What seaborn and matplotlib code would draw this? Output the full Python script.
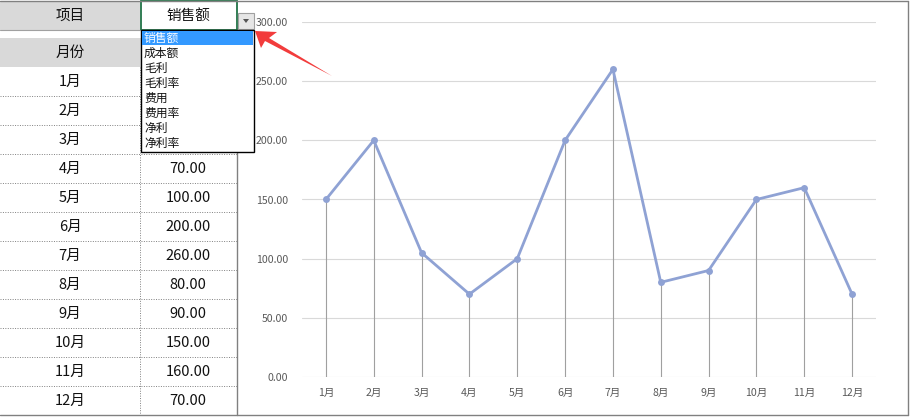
import matplotlib
matplotlib.use("Agg")
import matplotlib.pyplot as plt
import seaborn as sns
import numpy as np
from matplotlib.patches import Rectangle, Polygon

# data
months = ["1月", "2月", "3月", "4月", "5月", "6月", "7月", "8月", "9月", "10月", "11月", "12月"]
sales = [150, 200, 105, 70, 100, 200, 260, 80, 90, 150, 160, 70]
items = ["销售额", "成本额", "毛利", "毛利率", "费用", "费用率", "净利", "净利率"]
y_ticks = [0, 50, 100, 150, 200, 250, 300]

sns.set_theme(style="white")
plt.rcParams['font.family'] = ['Noto Sans CJK SC', 'DejaVu Sans']

W, H = 911, 419
fig = plt.figure(figsize=(W / 100, H / 100), dpi=100)

# chart area (pixel positions converted to figure fractions)
px_l, px_r, px_t, px_b = 302, 876, 22, 377
ax = fig.add_axes([px_l / W, 1 - px_b / H, (px_r - px_l) / W, (px_b - px_t) / H])
x = np.arange(len(months))
ax.vlines(x, 0, sales, color="#a0a0a0", lw=0.8, zorder=1)
sns.lineplot(x=x, y=sales, ax=ax, color="#8fa2d4", lw=2.0, marker="o",
             markersize=5, markeredgewidth=0, zorder=3)
ax.set_xlim(-0.5, len(months) - 0.5)
ax.set_ylim(0, 300)
ax.set_yticks(y_ticks)
ax.set_yticklabels([f"{v:.2f}" for v in y_ticks])
ax.set_xticks(x)
ax.set_xticklabels(months)
ax.tick_params(axis="both", labelsize=7.6, colors="#595959", length=0)
ax.tick_params(axis="y", pad=10)
ax.tick_params(axis="x", pad=8)
ax.grid(axis="y", color="#d9d9d9", lw=0.8)
ax.set_axisbelow(True)
for s in ax.spines.values():
    s.set_visible(False)
ax.set_xlabel("")
ax.set_ylabel("")

# overlay in pixel coordinates for the spreadsheet part
bg = fig.add_axes([0, 0, 1, 1], facecolor="none")
bg.set_xlim(0, W)
bg.set_ylim(H, 0)
bg.axis("off")

gray = "#d9d9d9"
grid_c = "#808080"
# header rows
bg.add_patch(Rectangle((0, 1), 140, 29, color=gray, lw=0))
bg.add_patch(Rectangle((0, 38), 237, 29, color=gray, lw=0))
bg.text(70, 16, "项目", ha="center", va="center", fontsize=10.5, color="#111111")
bg.text(70, 53, "月份", ha="center", va="center", fontsize=10.5, color="#111111")
bg.plot([0, 237], [30, 30], color="#a0a0a0", lw=0.8)
# selected cell
bg.add_patch(Rectangle((140.5, 1), 96.5, 29, fill=False, ec="#217346", lw=1.3))
bg.text(188, 16, "销售额", ha="center", va="center", fontsize=10.5, color="#111111")
# dropdown button
bg.add_patch(Rectangle((238, 13), 16, 16, fc="#e6e6e6", ec="#a0a0a0", lw=0.8))
bg.add_patch(Polygon([(243, 19), (249, 19), (246, 23)], color="#555555", lw=0))

# dropdown list geometry (covers the first value cells)
dd_top, dd_bot = 30.5, 152

# data rows
row_h = 29
y0 = 67
for i, (m, v) in enumerate(zip(months, sales)):
    yc = y0 + row_h * i + row_h / 2
    bg.text(70, yc, m, ha="center", va="center", fontsize=10.5, color="#111111")
    if yc - 8 > dd_bot:  # cells hidden behind the open list are not visible
        bg.text(188, yc, f"{v:.2f}", ha="center", va="center", fontsize=10.5, color="#111111")
    yb = y0 + row_h * (i + 1)
    if i < len(months) - 1:
        bg.plot([0, 237], [yb, yb], color="#808080", lw=0.7, ls=(0, (1, 1.5)))
bg.plot([140, 140], [y0, y0 + row_h * 12], color="#808080", lw=0.7, ls=(0, (1, 1.5)))

# borders
bg.plot([0, 908], [1, 1], color=grid_c, lw=1)
bg.plot([237, 237], [30, 415], color=grid_c, lw=1)
bg.plot([0, 908], [415, 415], color=grid_c, lw=1)
bg.plot([908, 908], [1, 415], color=grid_c, lw=1)

# dropdown list
bg.add_patch(Rectangle((140.5, dd_top), 113, dd_bot - dd_top, fc="white", ec="black", lw=1.0, zorder=5))
bg.add_patch(Rectangle((141.5, 31.5), 111, 14, fc="#3399ff", lw=0, zorder=6))
for i, it in enumerate(items):
    bg.text(144, 38.5 + 15 * i, it, ha="left", va="center", fontsize=8.5,
            color="white" if i == 0 else "#111111", zorder=7)

# red arrow
bg.add_patch(Polygon([(255, 31), (277, 32), (269, 38), (332, 76), (265, 41), (261, 48)],
                     color="#f23c3c", lw=0, zorder=8))

fig.savefig("out.png", dpi=100)
